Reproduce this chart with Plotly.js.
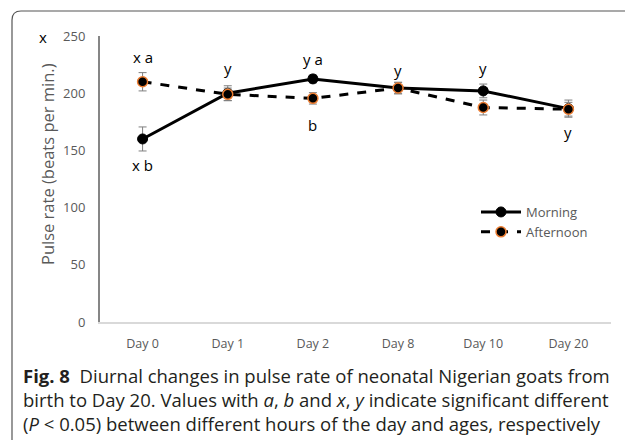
<!DOCTYPE html>
<html>
<head>
<meta charset="utf-8">
<script src="https://cdn.plot.ly/plotly-3.0.1.min.js"></script>
<style>
html,body{margin:0;padding:0;background:#fff;}
#chart{width:625px;height:440px;}
</style>
</head>
<body>
<div id="chart"></div>
<script>
// ---- data ----
const days = ["Day 0", "Day 1", "Day 2", "Day 8", "Day 10", "Day 20"];
const morning = [160, 200, 212.5, 204.5, 202, 186.5];
const morningErr = [10.5, 6.5, 3.5, 5, 6, 7.5];
const afternoon = [210, 199, 195.5, 204.5, 187.5, 186];
const afternoonErr = [8, 5.5, 5, 5, 6.5, 6];
const yTicks = [0, 50, 100, 150, 200, 250];
// significance letters: [category index, series ("m"/"a"), text, above(1)/below(-1)]
const sigLabels = [
  [0, "a", "x a", 1],
  [0, "m", "x b", -1],
  [1, "m", "y", 1],
  [2, "m", "y a", 1],
  [2, "a", "b", -1],
  [3, "m", "y", 1],
  [4, "m", "y", 1],
  [5, "a", "y", -1]
];
const sigShift = [25, 26, 25, 20, 27, 18, 23, 23];

const gray = "#595959";
const font = "Open Sans, Noto Sans, sans-serif";

const traces = [
  {
    x: days, y: morning, name: "Morning", type: "scatter", mode: "lines+markers",
    line: {color: "#000", width: 3},
    marker: {color: "#000", size: 10, line: {color: "#000", width: 1}},
    error_y: {type: "data", array: morningErr, visible: true, color: "#7f7f7f", thickness: 1, width: 4}
  },
  {
    x: days, y: afternoon, name: "Afternoon", type: "scatter", mode: "lines+markers",
    line: {color: "#000", width: 3, dash: "dash"},
    marker: {color: "#000", size: 10, line: {color: "#ED7D31", width: 1.5}},
    error_y: {type: "data", array: afternoonErr, visible: true, color: "#7f7f7f", thickness: 1, width: 4}
  }
];

const px = v => (v - 100) / 511;
const py = v => (322 - v) / 286;

const annotations = sigLabels.map((s, i) => ({
  x: days[s[0]], y: (s[1] === "m" ? morning : afternoon)[s[0]],
  xref: "x", yref: "y", text: s[2], showarrow: false,
  yshift: s[3] * sigShift[i],
  font: {family: font, size: 15, color: "#000"}
}));
annotations.push({
  xref: "paper", yref: "paper", x: px(43), y: py(37), xanchor: "center", yanchor: "middle",
  text: "x", showarrow: false, font: {family: font, size: 15, color: "#000"}
});
annotations.push({
  xref: "paper", yref: "paper", x: px(47), y: py(164), xanchor: "center", yanchor: "middle",
  textangle: -90, text: "Pulse rate (beats per min.)", showarrow: false,
  font: {family: font, size: 16.5, color: gray}
});
annotations.push({
  xref: "paper", yref: "paper", x: px(21), y: py(361), xanchor: "left", yanchor: "top",
  align: "left", showarrow: false,
  text: "<b>Fig. 8</b>  Diurnal changes in pulse rate of neonatal Nigerian goats from<br>" +
        "birth to Day 20. Values with <i>a</i>, <i>b</i> and <i>x</i>, <i>y</i> indicate significant different<br>" +
        "(<i>P</i> < 0.05) between different hours of the day and ages, respectively",
  font: {family: font, size: 18.5, color: "#231f20"}
});

const layout = {
  width: 625, height: 440,
  margin: {l: 100, r: 14, t: 36, b: 118},
  paper_bgcolor: "#fff", plot_bgcolor: "#fff",
  showlegend: true,
  legend: {
    x: px(476), y: py(197), xanchor: "left", yanchor: "top",
    font: {family: font, size: 13, color: gray},
    bgcolor: "rgba(0,0,0,0)", tracegroupgap: 0, itemwidth: 40
  },
  xaxis: {
    type: "category", range: [-0.5, 5.5],
    showline: true, linecolor: "#d9d9d9", linewidth: 1.5,
    showgrid: false, zeroline: false, ticks: "",
    ticklabelstandoff: 9,
    tickfont: {family: font, size: 12.5, color: gray}
  },
  yaxis: {
    range: [0, 250], tickvals: yTicks,
    showline: true, linecolor: "#868686", linewidth: 2,
    showgrid: false, zeroline: false, ticks: "",
    ticklabelstandoff: 10,
    tickfont: {family: font, size: 13, color: gray}
  },
  annotations: annotations,
  shapes: [{
    type: "path", xref: "paper", yref: "paper",
    path: `M ${px(12)},${py(441)} L ${px(12)},${py(20)} Q ${px(12)},${py(11)} ${px(21)},${py(11)} L ${px(626)},${py(11)}`,
    line: {color: "#555", width: 1.2}
  }]
};

Plotly.newPlot("chart", traces, layout, {displayModeBar: false});
</script>
</body>
</html>
